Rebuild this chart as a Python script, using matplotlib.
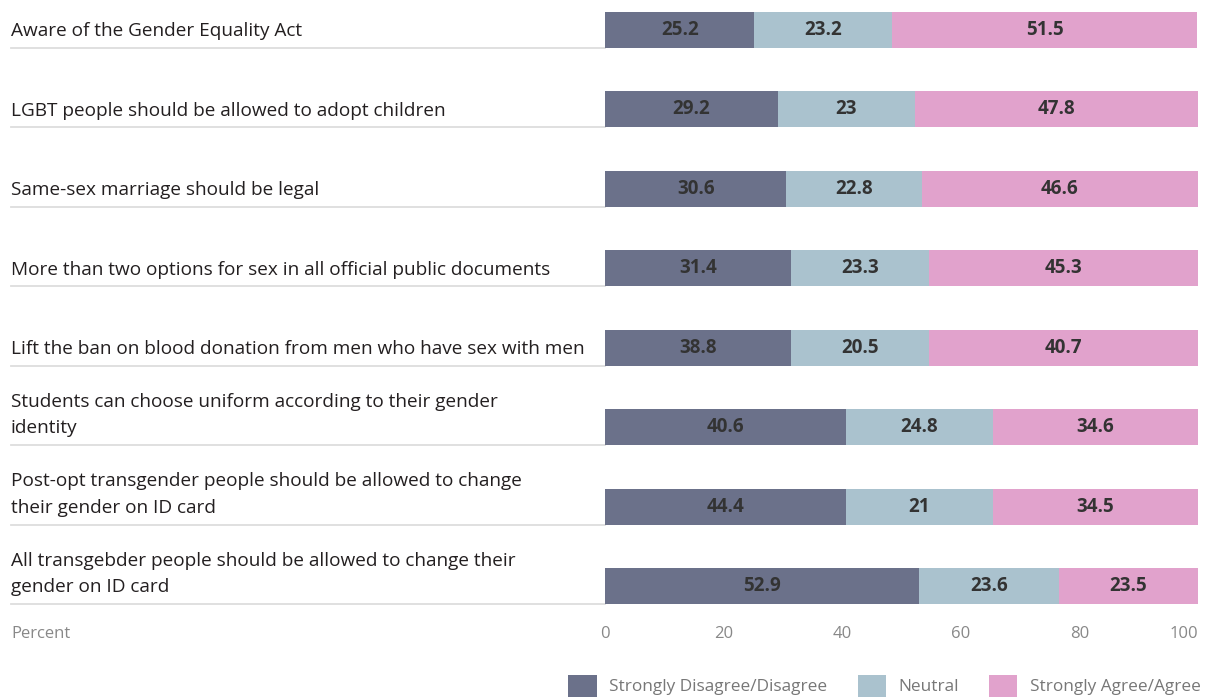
import matplotlib
matplotlib.use("Agg")
import matplotlib.pyplot as plt
import matplotlib.transforms as mtransforms
from matplotlib.patches import Patch

plt.rcParams['font.family'] = ['Open Sans', 'DejaVu Sans']

categories = [
    "Aware of the Gender Equality Act",
    "LGBT people should be allowed to adopt children",
    "Same-sex marriage should be legal",
    "More than two options for sex in all official public documents",
    "Lift the ban on blood donation from men who have sex with men",
    "Students can choose uniform according to their gender\nidentity",
    "Post-opt transgender people should be allowed to change\ntheir gender on ID card",
    "All transgebder people should be allowed to change their\ngender on ID card",
]
series_names = ["Strongly Disagree/Disagree", "Neutral", "Strongly Agree/Agree"]
# bar lengths as drawn in the picture
disagree = [25.2, 29.2, 30.6, 31.4, 31.4, 40.6, 40.6, 52.9]
neutral = [23.2, 23.0, 22.8, 23.3, 23.3, 24.8, 24.8, 23.6]
agree = [51.5, 47.8, 46.6, 45.3, 45.3, 34.6, 34.6, 23.5]
# value labels as printed on the bars
disagree_lbl = ["25.2", "29.2", "30.6", "31.4", "38.8", "40.6", "44.4", "52.9"]
neutral_lbl = ["23.2", "23", "22.8", "23.3", "20.5", "24.8", "21", "23.6"]
agree_lbl = ["51.5", "47.8", "46.6", "45.3", "40.7", "34.6", "34.5", "23.5"]
xticks = [0, 20, 40, 60, 80, 100]

colors = ["#6b718a", "#aac2ce", "#e1a2cc"]

W, H = 1206, 697
fig = plt.figure(figsize=(W / 100, H / 100), dpi=100)
ax_left, ax_right = 605, 1198
ax_top, ax_bottom = 0, 615
ax = fig.add_axes([ax_left / W, 1 - ax_bottom / H, (ax_right - ax_left) / W, (ax_bottom - ax_top) / H])

row_px0, row_step = 30.0, 79.43
ax.set_ylim((ax_bottom - row_px0) / row_step, (ax_top - row_px0) / row_step)
ax.set_xlim(0, 100)

y = list(range(len(categories)))
bar_h = 36 / row_step
left = [0] * len(y)
for vals, lbls, col, name in zip([disagree, neutral, agree],
                                 [disagree_lbl, neutral_lbl, agree_lbl],
                                 colors, series_names):
    bars = ax.barh(y, vals, left=left, height=bar_h, color=col, label=name, linewidth=0)
    ax.bar_label(bars, labels=lbls, label_type='center', fontsize=13.5,
                 fontweight='bold', color='#333333')
    left = [l + v for l, v in zip(left, vals)]

for s in ax.spines.values():
    s.set_visible(False)
ax.set_yticks([])
ax.set_xticks(xticks)
ax.set_xticklabels([str(t) for t in xticks])
ax.tick_params(axis='x', length=0, pad=8, labelsize=12, labelcolor='#888888')
ax.get_xticklabels()[-1].set_horizontalalignment('right')

trans = mtransforms.blended_transform_factory(ax.transAxes, ax.transData)
x_lab = (11 - ax_left) / (ax_right - ax_left)
line_h_pt = 27 * 0.72
for i, cat in enumerate(categories):
    nlines = cat.count("\n") + 1
    off = (nlines - 1) * line_h_pt / 2
    ax.annotate(cat, xy=(x_lab, i), xycoords=trans, xytext=(0, off - 1.0),
                textcoords='offset points', ha='left', va='center',
                fontsize=13.7, color='#231f20', linespacing=1.62,
                annotation_clip=False)
    ax.plot([x_lab, 0], [i + bar_h / 2, i + bar_h / 2], transform=trans,
            color='#dddddd', lw=1.3, clip_on=False, zorder=0)

ax.annotate("Percent", xy=(x_lab, 0), xycoords=mtransforms.blended_transform_factory(ax.transAxes, ax.transAxes),
            xytext=(0, -8), textcoords='offset points',
            ha='left', va='top', fontsize=12, color='#888888', annotation_clip=False)

handles = [Patch(facecolor=c, edgecolor='none') for c in colors]
fig.legend(handles, series_names, loc='lower right', bbox_to_anchor=(0.996, 0.0),
           ncol=3, frameon=False, fontsize=12.4, handlelength=1.63, handleheight=1.63,
           handletextpad=0.75, columnspacing=1.75, borderaxespad=0.0, borderpad=0.0,
           labelcolor='#777777')

fig.savefig("out.png", dpi=100)
